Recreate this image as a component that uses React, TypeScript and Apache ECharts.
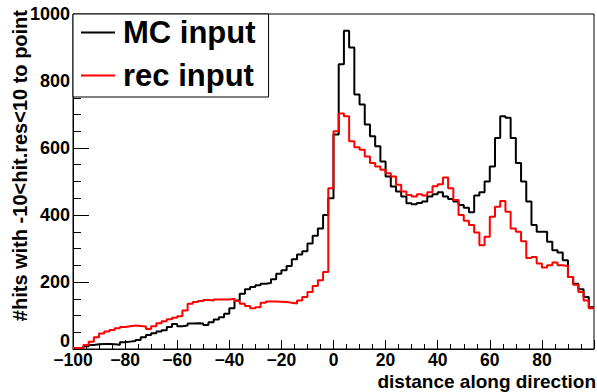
import React, { useEffect, useRef } from "react";
import * as echarts from "echarts";

const binStart = -100;
const binWidth = 2;

const mcInput = [
  2, 4, 8, 12, 14, 15, 15, 14, 13, 20,
  22, 24, 27, 35, 42, 47, 52, 56, 66, 75,
  68, 70, 76, 77, 76, 72, 80, 88, 95, 105,
  122, 145, 165, 178, 185, 190, 195, 197, 208, 225,
  235, 248, 268, 282, 292, 315, 338, 360, 400, 450,
  640, 850, 950, 900, 760, 730, 670, 635, 605, 560,
  515, 485, 470, 455, 435, 432, 436, 440, 455, 462,
  468, 455, 448, 440, 430, 422, 408, 458, 468, 500,
  545, 630, 695, 690, 630, 555, 500, 440, 370, 350,
  350, 320, 295, 288, 265, 215, 195, 178, 155, 125,
];

const recInput = [
  3, 4, 12, 22, 35, 46, 52, 57, 62, 66,
  68, 70, 69, 67, 60, 68, 77, 83, 89, 93,
  98, 115, 135, 140, 143, 146, 145, 148, 148, 148,
  150, 143, 135, 128, 122, 125, 138, 142, 142, 141,
  140, 138, 136, 145, 155, 170, 188, 205, 230, 480,
  650, 703, 695, 620, 602, 595, 575, 555, 545, 535,
  525, 515, 490, 470, 460, 455, 462, 458, 468, 486,
  492, 512, 480, 445, 400, 383, 370, 348, 310, 335,
  395, 425, 442, 410, 360, 350, 322, 272, 275, 255,
  243, 250, 258, 250, 248, 215, 192, 170, 145, 122,
];

const xTicks = [-100, -80, -60, -40, -20, 0, 20, 40, 60, 80];
const yTicks = [0, 200, 400, 600, 800, 1000];

const xTitle = "distance along direction";
const yTitle = "#hits with -10<hit.res<10 to point";
const seriesNames = ["MC input", "rec input"];

function toSteps(values: number[]) {
  const pts: [number, number][] = values.map((v, i) => [binStart + i * binWidth, v]);
  pts.push([binStart + values.length * binWidth, values[values.length - 1]]);
  return pts;
}

const FONT = "'Liberation Sans', Arial, Helvetica, sans-serif";

export default function App() {
  const ref = useRef<HTMLDivElement>(null);
  useEffect(() => {
    if (!ref.current) return;
    const chart = echarts.init(ref.current, undefined, { renderer: "svg" });
    chart.setOption({
      animation: false,
      backgroundColor: "#fff",
      grid: {
        left: 73,
        top: 14,
        right: 1,
        bottom: 43,
        show: true,
        borderColor: "#000",
        borderWidth: 1,
        backgroundColor: "transparent",
      },
      xAxis: {
        type: "value",
        min: -100,
        max: 100,
        interval: 20,
        axisLine: { show: true, onZero: false, lineStyle: { color: "#000", width: 1 } },
        axisTick: { show: true, inside: true, length: 9, lineStyle: { color: "#000" } },
        minorTick: { show: true, splitNumber: 4, length: 5, lineStyle: { color: "#000" } },
        splitLine: { show: false },
        axisLabel: {
          margin: 3,
          color: "#000",
          fontFamily: FONT,
          fontWeight: "bold",
          fontSize: 17.5,
          lineHeight: 15,
          formatter: (v: number) =>
            xTicks.includes(v) ? (v < 0 ? "\u2212" + Math.abs(v) : String(v)) : "",
        },
      },
      yAxis: {
        type: "value",
        min: 0,
        max: 1000,
        interval: 200,
        axisLine: { show: true, onZero: false, lineStyle: { color: "#000", width: 1 } },
        axisTick: { show: true, inside: true, length: 16, lineStyle: { color: "#000" } },
        minorTick: { show: true, splitNumber: 4, length: 8, lineStyle: { color: "#000" } },
        splitLine: { show: false },
        axisLabel: {
          margin: 3,
          color: "#000",
          fontFamily: FONT,
          fontWeight: "bold",
          fontSize: 18,
          formatter: (v: number) =>
            yTicks.includes(v) ? (v === 0 ? "{z|0}" : String(v)) : "",
          rich: {
            z: {
              fontFamily: FONT,
              fontWeight: "bold",
              fontSize: 18,
              lineHeight: 12,
              color: "#000",
              padding: [0, 0, 17, 0],
            },
          },
        },
      },
      legend: {
        left: 73,
        top: 14,
        orient: "vertical",
        icon: "rect",
        itemWidth: 34,
        itemHeight: 2,
        itemGap: 12,
        padding: [3, 13, 6, 8],
        backgroundColor: "#fff",
        borderColor: "#000",
        borderWidth: 1,
        borderRadius: 0,
        textStyle: {
          color: "#000",
          fontFamily: FONT,
          fontWeight: "bold",
          fontSize: 31,
          lineHeight: 31,
          padding: [0, 0, 0, 3],
        },
        data: seriesNames,
      },
      graphic: [
        {
          type: "text",
          x: 20,
          y: 10,
          rotation: Math.PI / 2,
          style: {
            text: yTitle,
            fill: "#000",
            font: `bold 20px ${FONT}`,
            align: "right",
            verticalAlign: "middle",
          },
        },
        {
          type: "text",
          x: 596,
          y: 381,
          style: {
            text: xTitle,
            fill: "#000",
            font: `bold 19px ${FONT}`,
            lineHeight: 16,
            align: "right",
            verticalAlign: "middle",
          },
        },
      ],
      series: [
        {
          name: seriesNames[0],
          type: "line",
          step: "end",
          showSymbol: false,
          data: toSteps(mcInput),
          lineStyle: { color: "#000", width: 2 },
          itemStyle: { color: "#000" },
          z: 2,
        },
        {
          name: seriesNames[1],
          type: "line",
          step: "end",
          showSymbol: false,
          data: toSteps(recInput),
          lineStyle: { color: "#ff0000", width: 2 },
          itemStyle: { color: "#ff0000" },
          z: 3,
        },
      ],
    });
    return () => chart.dispose();
  }, []);
  return (
    <div
      ref={ref}
      style={{ position: "fixed", left: 0, top: 0, width: 597, height: 392, background: "#fff" }}
    />
  );
}
